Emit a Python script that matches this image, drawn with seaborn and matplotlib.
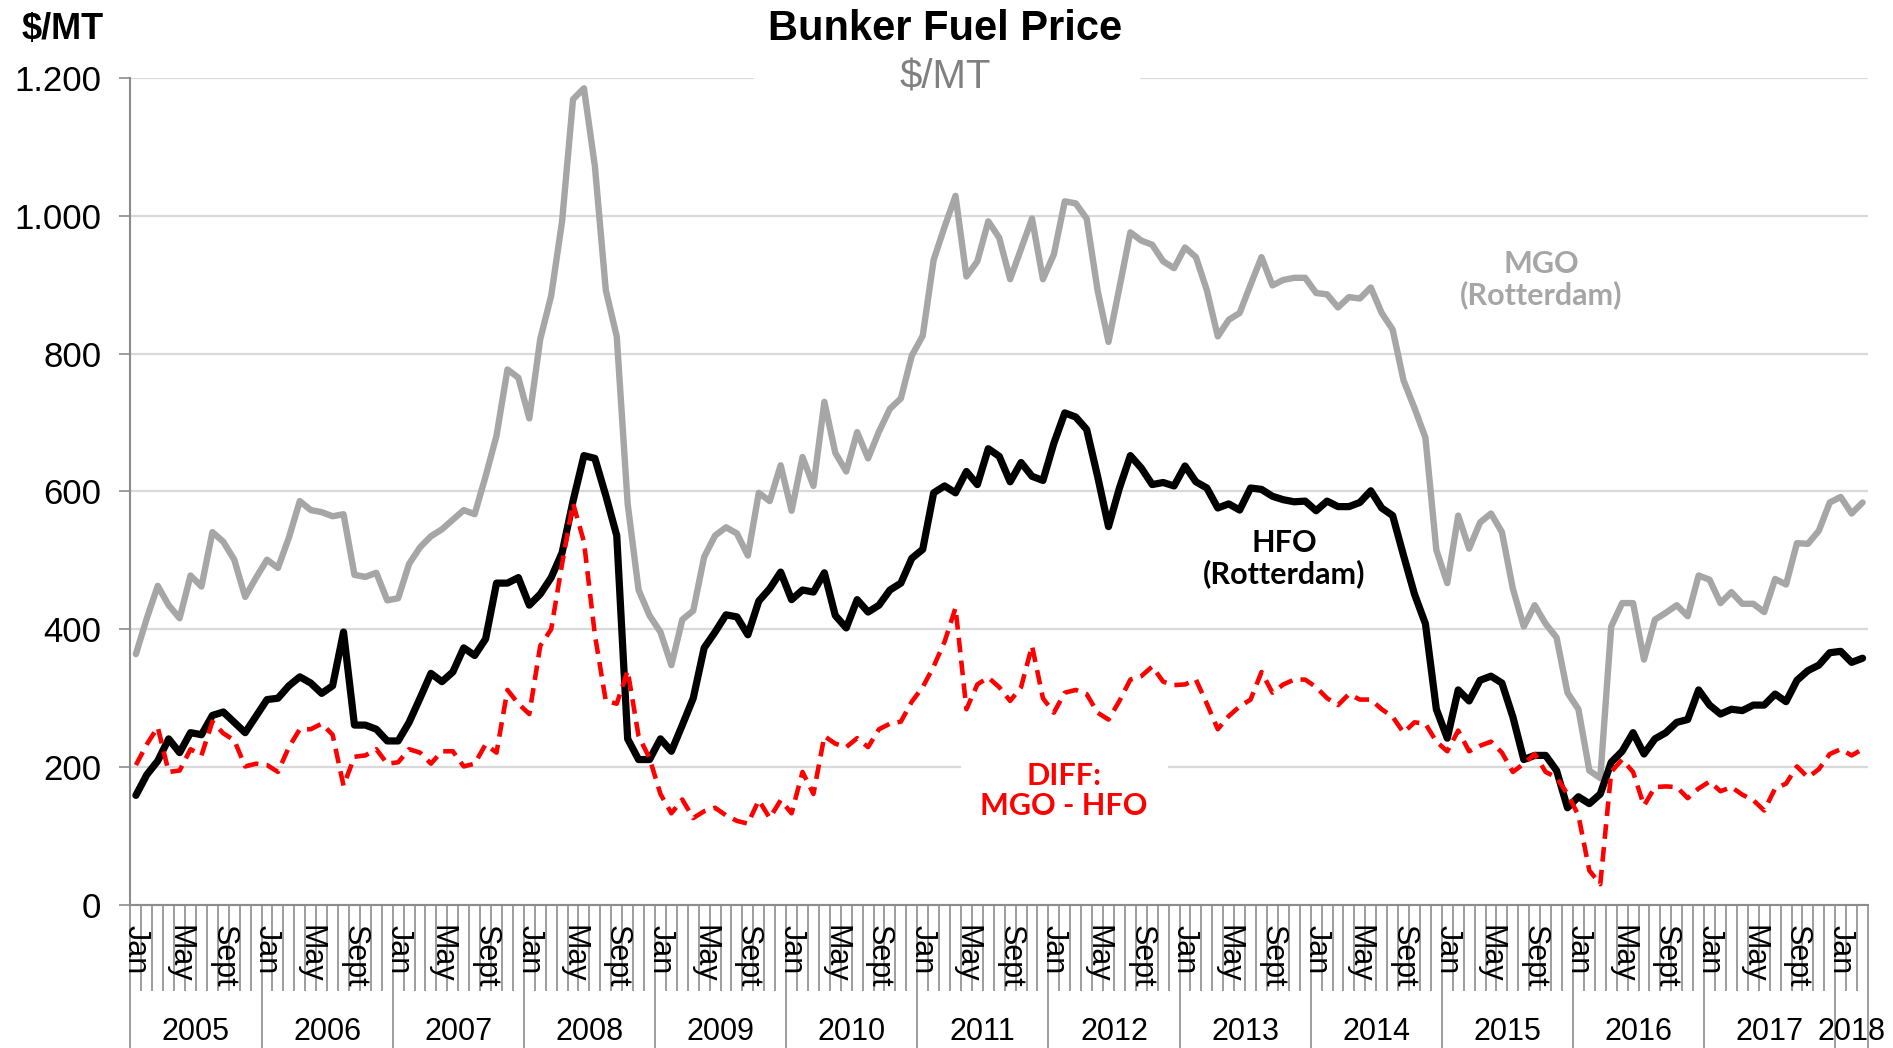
from __future__ import annotations

import matplotlib.pyplot as plt
import numpy as np
import pandas as pd
import seaborn as sns
from matplotlib.patches import Rectangle
from matplotlib.ticker import FuncFormatter

OUT_PATH = "out.png"

YEARS = list(range(2005, 2019))
MONTH_TICKS = ["Jan", "", "", "", "May", "", "", "", "Sept", "", "", ""]

# monthly prices, $/MT, Jan 2005 - Mar 2018 (one row per year)
MGO = [
    364, 416, 463, 435, 416, 478, 462, 541, 527, 501, 447, 475,
    501, 489, 533, 586, 573, 570, 564, 567, 479, 476, 482, 442,
    445, 495, 519, 535, 545, 559, 573, 567, 622, 681, 777, 765,
    706, 821, 884, 992, 1169, 1185, 1072, 892, 825, 582, 457, 420,
    396, 348, 414, 427, 505, 536, 548, 539, 507, 598, 586, 638,
    572, 650, 608, 730, 656, 629, 686, 648, 687, 720, 735, 797,
    826, 936, 984, 1029, 912, 934, 992, 968, 908, 952, 996, 908,
    944, 1021, 1018, 996, 892, 817, 896, 976, 964, 958, 934, 924,
    954, 940, 892, 825, 849, 859, 900, 940, 899, 907, 910, 910,
    888, 886, 867, 882, 880, 896, 859, 835, 761, 721, 678, 515,
    467, 565, 517, 555, 568, 541, 459, 404, 435, 408, 388, 308,
    284, 195, 184, 404, 438, 438, 356, 414, 424, 435, 419, 478,
    472, 438, 454, 437, 437, 425, 473, 465, 525, 524, 543, 584,
    592, 568, 584,
]
HFO = [
    159, 189, 209, 241, 221, 250, 247, 275, 280, 265, 250, 274,
    298, 300, 318, 331, 322, 307, 318, 396, 261, 261, 255, 238,
    238, 265, 300, 336, 324, 338, 373, 362, 386, 467, 467, 475,
    435, 451, 475, 511, 586, 652, 648, 594, 536, 241, 211, 211,
    241, 223, 261, 300, 373, 396, 421, 418, 392, 441, 459, 483,
    443, 457, 454, 482, 420, 402, 443, 425, 435, 457, 467, 503,
    516, 598, 608, 598, 629, 610, 662, 651, 614, 642, 622, 616,
    670, 714, 708, 690, 622, 549, 605, 652, 634, 610, 613, 608,
    637, 614, 605, 576, 582, 573, 605, 603, 593, 588, 585, 586,
    572, 586, 578, 578, 584, 601, 576, 565, 507, 451, 408, 284,
    242, 312, 296, 326, 332, 322, 273, 211, 217, 217, 195, 141,
    157, 147, 161, 207, 223, 250, 219, 241, 250, 265, 269, 312,
    290, 277, 284, 282, 290, 290, 306, 295, 326, 340, 348, 366,
    368, 352, 358,
]
DIFF = [
    203, 233, 258, 193, 195, 226, 217, 266, 249, 239, 201, 205,
    203, 193, 229, 255, 255, 263, 247, 173, 215, 217, 226, 205,
    207, 226, 221, 205, 223, 223, 201, 205, 233, 221, 312, 292,
    277, 376, 400, 495, 583, 527, 392, 296, 292, 340, 245, 213,
    161, 133, 153, 126, 136, 141, 130, 122, 118, 152, 126, 152,
    133, 193, 161, 245, 234, 229, 242, 229, 255, 263, 266, 295,
    316, 346, 382, 431, 284, 320, 330, 316, 296, 316, 376, 300,
    279, 308, 312, 306, 279, 269, 296, 327, 332, 346, 324, 319,
    320, 327, 292, 255, 274, 288, 298, 338, 308, 320, 327, 327,
    316, 300, 290, 306, 298, 298, 284, 273, 250, 265, 263, 237,
    223, 253, 223, 231, 237, 221, 193, 205, 219, 193, 185, 161,
    130, 50, 30, 193, 211, 193, 144, 171, 172, 171, 155, 169,
    179, 165, 171, 160, 152, 137, 169, 176, 201, 185, 197, 219,
    226, 217, 226,
]

GREY = "#a6a6a6"
RED = "#ff0000"
GRID = "#d9d9d9"
AXIS = "#8c8c8c"
LABEL_FONT = ["Lato", "DejaVu Sans"]


def _build_frame() -> pd.DataFrame:
    years, labels = [], []
    for year in YEARS:
        for lab in MONTH_TICKS:
            years.append(year)
            labels.append(lab)
    n = len(MGO)
    assert len(HFO) == n and len(DIFF) == n
    return pd.DataFrame({
        "idx": np.arange(n),
        "year": years[:n],
        "label": labels[:n],
        "MGO": MGO,
        "HFO": HFO,
        "DIFF": DIFF,
    })


def _style_axes(ax, df: pd.DataFrame) -> None:
    n = len(df)
    ax.set_xlim(-0.5, n - 0.5)
    ax.set_ylim(0, 1200)
    ax.set_yticks(range(0, 1201, 200))
    ax.yaxis.set_major_formatter(FuncFormatter(lambda v, _: f"{v:,.0f}".replace(",", ".")))
    ax.grid(axis="y", color=GRID, linewidth=1.6)
    ax.grid(axis="x", visible=False)
    ax.set_axisbelow(True)
    for side in ("top", "right"):
        ax.spines[side].set_visible(False)
    for side in ("left", "bottom"):
        ax.spines[side].set_color(AXIS)
        ax.spines[side].set_linewidth(1.5)
    ax.set_xlabel("")
    ax.set_ylabel("")

    ax.tick_params(axis="y", left=True, length=8, width=1.2, color=AXIS, pad=13,
                   labelsize=25, labelcolor="black")

    # tick marks on the month / year boundaries, labels drawn separately
    year_edges = [i - 0.5 for i in df.index[df["label"] == "Jan"]] + [n - 0.5]
    ax.set_xticks(year_edges, labels=[])
    ax.set_xticks(np.arange(-0.5, n, 1.0), minor=True)
    ax.tick_params(axis="x", which="major", bottom=True, length=105, width=1.2, color=AXIS)
    ax.tick_params(axis="x", which="minor", bottom=True, length=62, width=1.2, color=AXIS)

    trans = ax.get_xaxis_transform()
    for i, lab in zip(df["idx"], df["label"]):
        if lab:
            ax.text(i, -0.024, lab, transform=trans, rotation=-90,
                    ha="center", va="top", fontsize=22, color="black")
    for year, grp in df.groupby("year"):
        ax.text(grp["idx"].mean(), -0.1536, str(year), transform=trans,
                ha="center", va="center", fontsize=22, color="black")


def main() -> None:
    sns.set_style("white")
    plt.rcParams["font.family"] = ["Liberation Sans", "DejaVu Sans"]
    plt.rcParams["text.color"] = "black"

    df = _build_frame()

    fig = plt.figure(figsize=(18.93, 10.48), dpi=100)
    ax = fig.add_axes([0.0689, 0.1365, 0.9179, 0.7891])

    sns.lineplot(data=df, x="idx", y="MGO", color=GREY, linewidth=4.6,
                 solid_joinstyle="round", ax=ax, zorder=3)
    sns.lineplot(data=df, x="idx", y="HFO", color="black", linewidth=5.2,
                 solid_joinstyle="round", ax=ax, zorder=4)
    sns.lineplot(data=df, x="idx", y="DIFF", color=RED, linewidth=3.3,
                 linestyle=(0, (3.2, 1.8)), ax=ax, zorder=5)

    _style_axes(ax, df)

    # white gaps behind the subtitle and the DIFF label
    ax.add_patch(Rectangle((56.6, 1185), 35.3, 30, facecolor="white",
                           edgecolor="none", zorder=1, clip_on=False))
    ax.add_patch(Rectangle((75.5, 190), 18.9, 20, facecolor="white",
                           edgecolor="none", zorder=1))

    ax.text(128.6, 907, "MGO\n(Rotterdam)", color=GREY, fontsize=22, weight="bold",
            family=LABEL_FONT, ha="center", va="center", linespacing=1.1, zorder=6)
    ax.text(105.1, 503, "HFO\n(Rotterdam)", color="black", fontsize=22, weight="bold",
            family=LABEL_FONT, ha="center", va="center", linespacing=1.1, zorder=6)
    ax.text(84.9, 165, "DIFF:\nMGO - HFO", color=RED, fontsize=22, weight="bold",
            family=LABEL_FONT, ha="center", va="center", linespacing=1.1, zorder=6)

    fig.text(0.4992, 0.9722, "Bunker Fuel Price", ha="center", va="center",
             fontsize=30, weight="bold")
    fig.text(0.4992, 0.9256, "$/MT", ha="center", va="center",
             fontsize=29, color="#808080")
    fig.text(0.0333, 0.9722, "$/MT", ha="center", va="center",
             fontsize=26, weight="bold")

    fig.savefig(OUT_PATH, dpi=100)
    plt.close(fig)


if __name__ == "__main__":
    main()
